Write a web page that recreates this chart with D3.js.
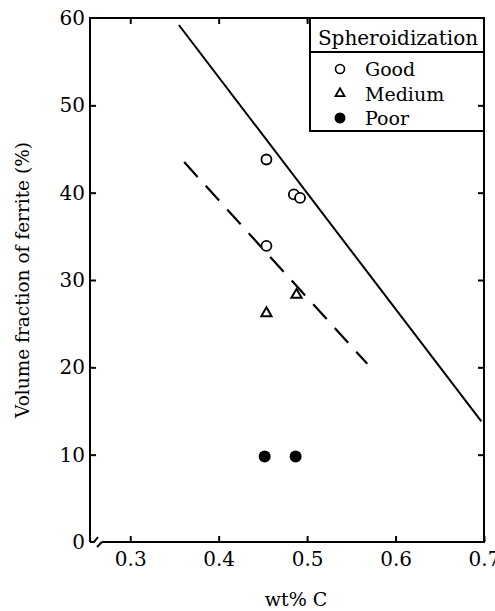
<!DOCTYPE html>
<html>
<head>
<meta charset="utf-8">
<script src="https://cdn.jsdelivr.net/npm/d3@7"></script>
<style>
  body { margin: 0; background: #fff; }
  text { font-family: "DejaVu Serif", "Liberation Serif", serif; fill: #000; }
</style>
</head>
<body>
<svg id="chart" width="495" height="611"></svg>
<script>
// values
var goodC = [0.454, 0.485, 0.492, 0.454];
var goodF = [43.8, 39.8, 39.4, 33.9];
var mediumC = [0.454, 0.488];
var mediumF = [26.2, 28.3];
var poorC = [0.452, 0.487];
var poorF = [9.8, 9.8];
// fitted lines (end points)
var solidC = [0.355, 0.697];
var solidF = [59.2, 13.8];
var dashC = [0.361, 0.568];
var dashF = [43.5, 20.4];

var xTicks = [0.3, 0.4, 0.5, 0.6, 0.7];
var yTicks = [0, 10, 20, 30, 40, 50, 60];
var legendLabels = ["Good", "Medium", "Poor"];

var plotL = 90, plotR = 484, plotT = 18, plotB = 542;

var svg = d3.select("#chart");

var x = d3.scaleLinear().domain([0.2545, 0.7]).range([plotL, plotR]);
var y = d3.scaleLinear().domain([0, 60]).range([plotB, plotT]);

// bottom axis (ticks inward)
var gx = svg.append("g")
    .attr("transform", "translate(0," + plotB + ")")
    .call(d3.axisBottom(x).tickValues(xTicks).tickSize(-6).tickPadding(10).tickFormat(d3.format(".1f")));
gx.select(".domain").remove();

// top ticks
var gt = svg.append("g")
    .attr("transform", "translate(0," + plotT + ")")
    .call(d3.axisTop(x).tickValues(xTicks.slice(0, 3)).tickSize(-6).tickFormat(""));
gt.select(".domain").remove();

// left axis
var gy = svg.append("g")
    .attr("transform", "translate(" + plotL + ",0)")
    .call(d3.axisLeft(y).tickValues(yTicks).tickSize(-6).tickPadding(5));
gy.select(".domain").remove();
gy.selectAll(".tick line").filter(function(d) { return d == 0 || d == 60; }).remove();

svg.selectAll(".tick text").style("font-size", "20px").attr("fill", "#000");
svg.selectAll(".tick line").attr("stroke", "#000").attr("stroke-width", 2);

// frame with axis break at lower left
var frame = svg.append("g").attr("fill", "none").attr("stroke", "#000").attr("stroke-width", 2);
frame.append("path").attr("d",
  "M" + plotL + "," + plotB + "V" + plotT + "H" + plotR + "V" + plotB + "H" + (plotL + 12));
frame.append("path").attr("d",
  "M" + plotL + "," + plotB + "H" + (plotL + 4) + "L" + (plotL + 8) + "," + (plotB - 5));
frame.append("path").attr("d",
  "M" + (plotL + 7) + "," + (plotB + 5) + "L" + (plotL + 12) + "," + plotB);

// lines
var line = d3.line().x(function(d) { return x(d[0]); }).y(function(d) { return y(d[1]); });
svg.append("path")
    .datum(d3.zip(solidC, solidF))
    .attr("d", line)
    .attr("fill", "none").attr("stroke", "#000").attr("stroke-width", 2);
svg.append("path")
    .datum(d3.zip(dashC, dashF))
    .attr("d", line)
    .attr("fill", "none").attr("stroke", "#000").attr("stroke-width", 2.2)
    .attr("stroke-dasharray", "20,12");

// points
svg.append("g").selectAll("circle")
    .data(d3.zip(goodC, goodF))
    .enter().append("circle")
    .attr("cx", function(d) { return x(d[0]); })
    .attr("cy", function(d) { return y(d[1]); })
    .attr("r", 5).attr("fill", "#fff").attr("stroke", "#000").attr("stroke-width", 1.8);

var tri = d3.symbol().type(d3.symbolTriangle).size(45);
svg.append("g").selectAll("path")
    .data(d3.zip(mediumC, mediumF))
    .enter().append("path")
    .attr("d", tri)
    .attr("transform", function(d) { return "translate(" + x(d[0]) + "," + y(d[1]) + ")"; })
    .attr("fill", "#fff").attr("stroke", "#000").attr("stroke-width", 2);

svg.append("g").selectAll("circle")
    .data(d3.zip(poorC, poorF))
    .enter().append("circle")
    .attr("cx", function(d) { return x(d[0]); })
    .attr("cy", function(d) { return y(d[1]); })
    .attr("r", 6).attr("fill", "#000");

// legend
var lg = svg.append("g");
lg.append("rect").attr("x", 310).attr("y", plotT).attr("width", plotR - 310).attr("height", 113)
    .attr("fill", "#fff").attr("stroke", "#000").attr("stroke-width", 2);
lg.append("line").attr("x1", 310).attr("x2", plotR).attr("y1", 52).attr("y2", 52)
    .attr("stroke", "#000").attr("stroke-width", 2);
lg.append("text").attr("x", 398).attr("y", 45).attr("text-anchor", "middle")
    .style("font-size", "20px").text("Spheroidization");
legendLabels.forEach(function(name, i) {
  var cy = 69 + i * 24.5;
  if (i == 0) {
    lg.append("circle").attr("cx", 340).attr("cy", cy).attr("r", 4.5)
      .attr("fill", "#fff").attr("stroke", "#000").attr("stroke-width", 1.6);
  } else if (i == 1) {
    lg.append("path").attr("d", d3.symbol().type(d3.symbolTriangle).size(35))
      .attr("transform", "translate(340," + cy + ")")
      .attr("fill", "#fff").attr("stroke", "#000").attr("stroke-width", 1.8);
  } else {
    lg.append("circle").attr("cx", 340).attr("cy", cy).attr("r", 5.5).attr("fill", "#000");
  }
  lg.append("text").attr("x", 365).attr("y", cy + 7).style("font-size", "19px").text(name);
});

// right ticks, drawn over the legend
var gr = svg.append("g")
    .attr("transform", "translate(" + plotR + ",0)")
    .call(d3.axisRight(y).tickValues([10, 20, 30, 40, 50]).tickSize(-6).tickFormat(""));
gr.select(".domain").remove();
gr.selectAll(".tick line").attr("stroke", "#000").attr("stroke-width", 2);

// axis titles
svg.append("text")
    .attr("transform", "translate(29,280) rotate(-90)")
    .attr("text-anchor", "middle")
    .style("font-size", "18.5px")
    .text("Volume fraction of ferrite (%)");
svg.append("text")
    .attr("x", 296).attr("y", 606)
    .attr("text-anchor", "middle")
    .style("font-size", "19px")
    .text("wt% C");
</script>
</body>
</html>
